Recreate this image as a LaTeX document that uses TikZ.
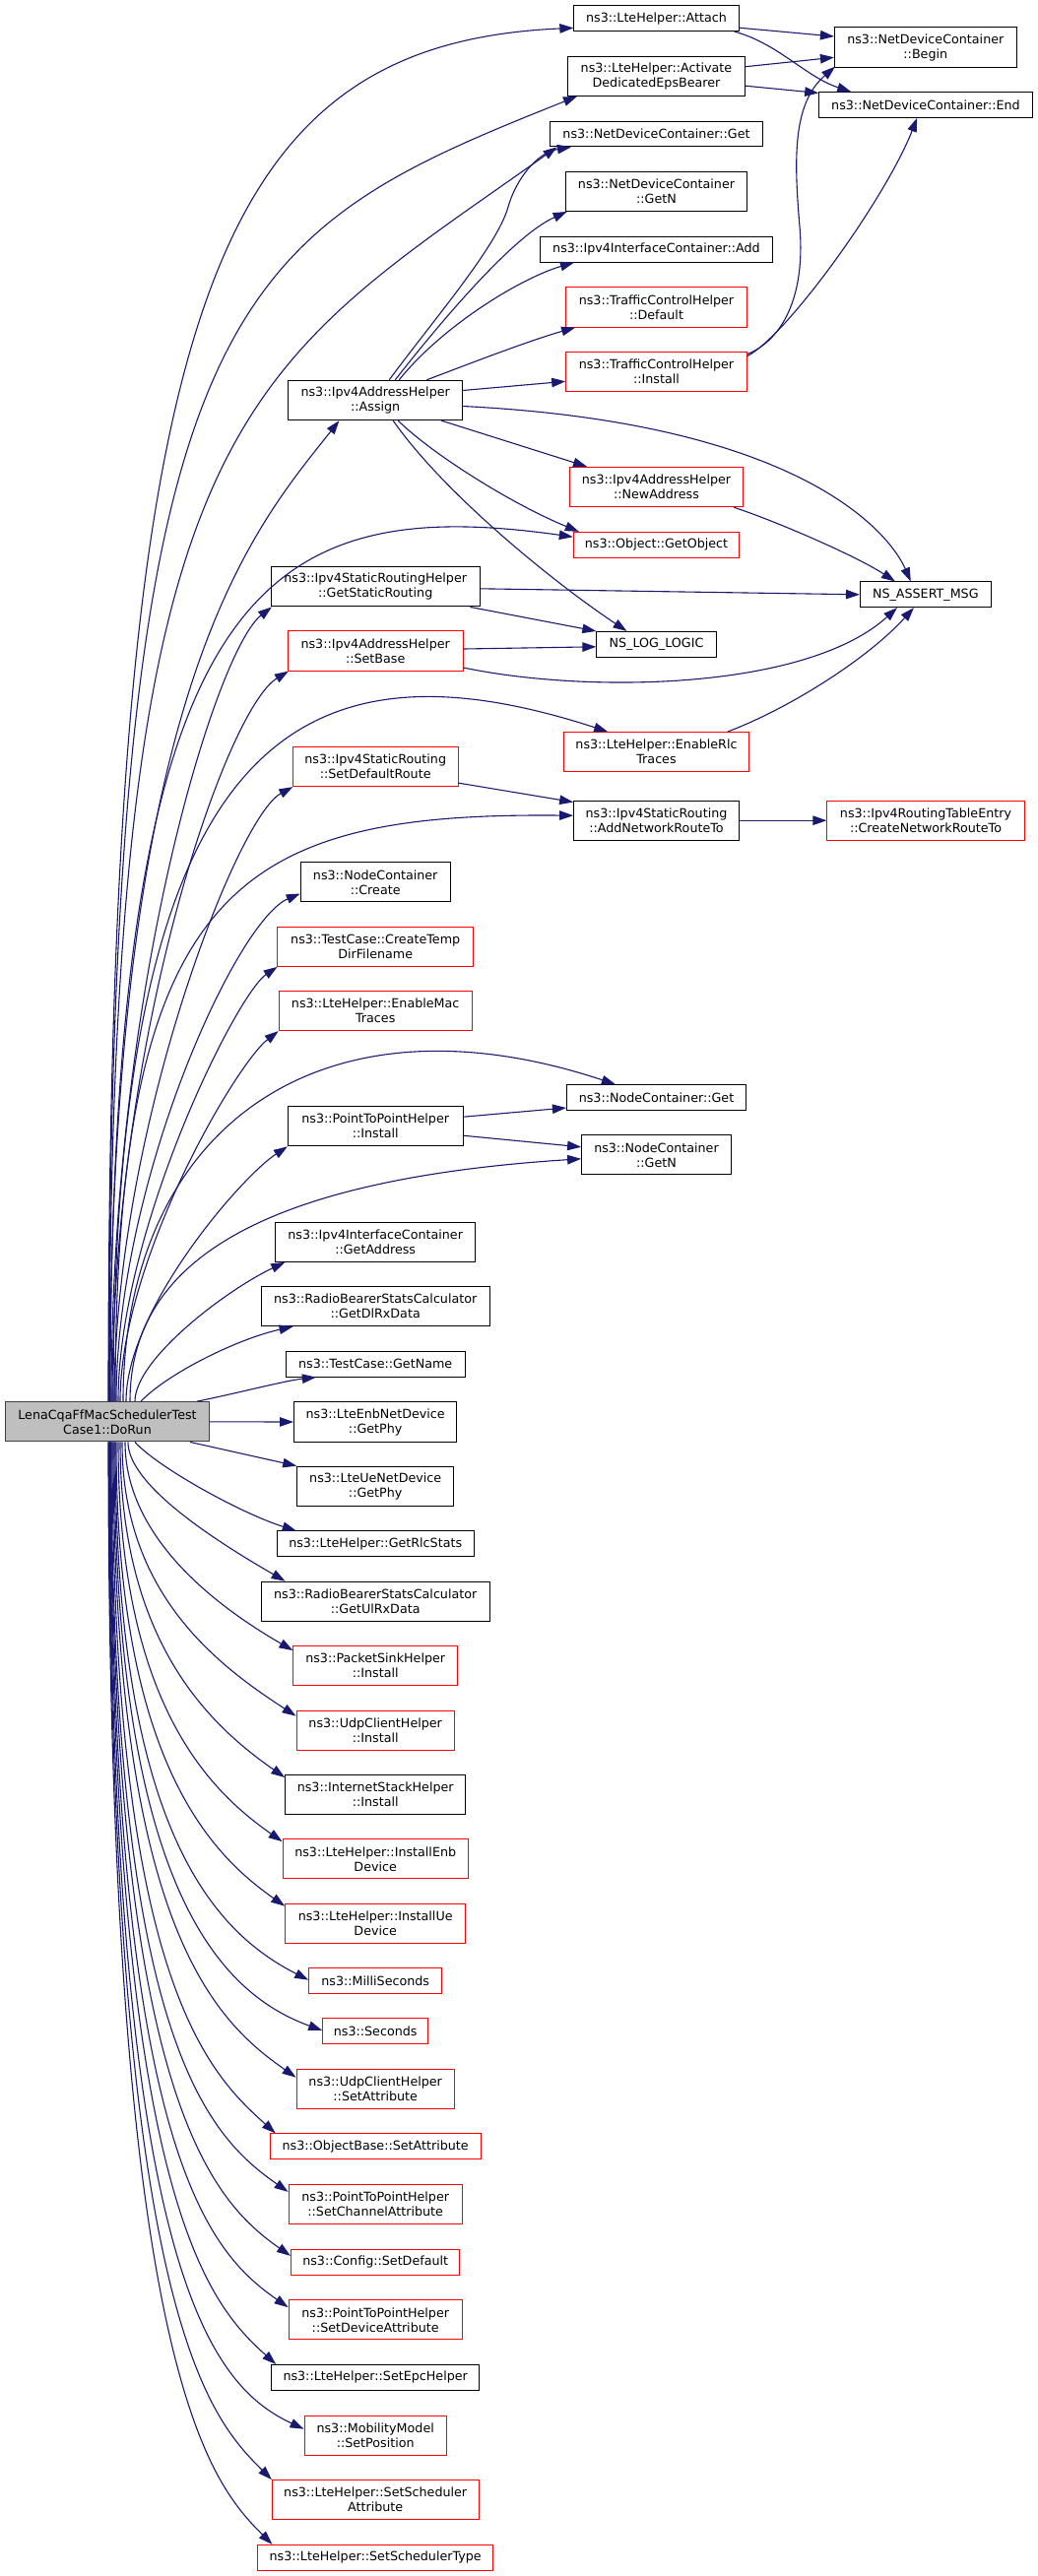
\documentclass[tikz,border=0pt]{standalone}
\usepackage{fontspec}
\setmainfont{DejaVu Sans}
\usetikzlibrary{arrows.meta,calc}
\definecolor{navy}{HTML}{191970}
\definecolor{mfill}{HTML}{BFBFBF}
\definecolor{mdraw}{HTML}{404040}
\tikzset{
  box/.style={draw=black, line width=1pt, fill=white, align=center, inner xsep=2pt, inner ysep=1pt,
    font=\fontsize{12.7}{15}\selectfont, minimum height=25.7pt},
  two/.style={minimum height=40.3pt},
  rb/.style={draw=red},
  edge/.style={navy, line width=1.1pt, -{Triangle[length=14pt,width=9.5pt]}},
}
\newcommand\upedge[4]{\draw[edge] ($(m.north)+(#1,0)$) .. controls #2 and #3 .. #4;}
\newcommand\dnedge[4]{\draw[edge] let \p1=($(m.south)+(#1,0)$), \p2=#4, \n1={0.55*(\x2-\x1)} in
  (\p1) .. controls (\x1,{\y1+#3*(\y2-\y1)}) and ({\x2-\n1*cos(#2)},{\y2+\n1*sin(#2)}) .. (\p2);}
\begin{document}
\begin{tikzpicture}[x=1pt,y=-1pt]
\fill[white] (0,0) rectangle (1053,2616);
\useasboundingbox (0,0) rectangle (1053,2616);

% main node
\node[box, two, fill=mfill, draw=mdraw, minimum width=206.6pt] (m) at (109,1443.8) {LenaCqaFfMacSchedulerTest\\Case1::DoRun};

% left column
\node[box, two, minimum width=176.5pt] (assign) at (381.2,406.5) {ns3::Ipv4AddressHelper\\::Assign};
\node[box, two, minimum width=211.6pt] (gsr) at (381.2,595.8) {ns3::Ipv4StaticRoutingHelper\\::GetStaticRouting};
\node[box, two, rb, minimum width=177.6pt] (setbase) at (381.2,661) {ns3::Ipv4AddressHelper\\::SetBase};
\node[box, two, rb, minimum width=167.7pt] (sdr) at (381.2,778.5) {ns3::Ipv4StaticRouting\\::SetDefaultRoute};
\node[box, two, minimum width=151.8pt] (create) at (381.2,895.8) {ns3::NodeContainer\\::Create};
\node[box, two, rb, minimum width=199.2pt] (ctdf) at (381.2,961.2) {ns3::TestCase::CreateTemp\\DirFilename};
\node[box, two, rb, minimum width=196pt] (emac) at (381.2,1026.5) {ns3::LteHelper::EnableMac\\Traces};
\node[box, two, minimum width=177.6pt] (p2pi) at (381.2,1143.7) {ns3::PointToPointHelper\\::Install};
\node[box, two, minimum width=203pt] (gaddr) at (381.2,1261.2) {ns3::Ipv4InterfaceContainer\\::GetAddress};
\node[box, two, minimum width=232.3pt] (dlrx) at (381.2,1326.5) {ns3::RadioBearerStatsCalculator\\::GetDlRxData};
\node[box, minimum width=181.7pt] (gname) at (381.2,1385.3) {ns3::TestCase::GetName};
\node[box, two, minimum width=165.3pt] (enbphy) at (381.2,1444) {ns3::LteEnbNetDevice\\::GetPhy};
\node[box, two, minimum width=159pt] (uephy) at (381.2,1509.3) {ns3::LteUeNetDevice\\::GetPhy};
\node[box, minimum width=200pt] (rlcstats) at (381.2,1567.8) {ns3::LteHelper::GetRlcStats};
\node[box, two, minimum width=232.3pt] (ulrx) at (381.2,1626.3) {ns3::RadioBearerStatsCalculator\\::GetUlRxData};
\node[box, two, rb, minimum width=166.6pt] (psink) at (381.2,1691.7) {ns3::PacketSinkHelper\\::Install};
\node[box, two, rb, minimum width=160.3pt] (udpi) at (381.2,1757.3) {ns3::UdpClientHelper\\::Install};
\node[box, two, minimum width=183pt] (ish) at (381.2,1822.7) {ns3::InternetStackHelper\\::Install};
\node[box, two, rb, minimum width=188.3pt] (ienb) at (381.2,1887.8) {ns3::LteHelper::InstallEnb\\Device};
\node[box, two, rb, minimum width=183pt] (iue) at (381.2,1953.3) {ns3::LteHelper::InstallUe\\Device};
\node[box, rb, minimum width=135pt] (milli) at (381.2,2011.7) {ns3::MilliSeconds};
\node[box, rb, minimum width=107pt] (secs) at (381.2,2062.5) {ns3::Seconds};
\node[box, two, rb, minimum width=160.3pt] (udpsa) at (381.2,2121.3) {ns3::UdpClientHelper\\::SetAttribute};
\node[box, rb, minimum width=214pt] (obsa) at (381.2,2179.7) {ns3::ObjectBase::SetAttribute};
\node[box, two, rb, minimum width=176.3pt] (p2pca) at (381.2,2238.5) {ns3::PointToPointHelper\\::SetChannelAttribute};
\node[box, rb, minimum width=171.4pt] (cfg) at (381.2,2297.2) {ns3::Config::SetDefault};
\node[box, two, rb, minimum width=176.3pt] (p2pda) at (381.2,2355.8) {ns3::PointToPointHelper\\::SetDeviceAttribute};
\node[box, minimum width=211pt] (epc) at (381.2,2414.3) {ns3::LteHelper::SetEpcHelper};
\node[box, two, rb, minimum width=144.3pt] (setpos) at (381.2,2473.2) {ns3::MobilityModel\\::SetPosition};
\node[box, two, rb, minimum width=209.7pt] (ssa) at (381.2,2538.7) {ns3::LteHelper::SetScheduler\\Attribute};
\node[box, rb, minimum width=238.6pt] (sst) at (381.2,2597.2) {ns3::LteHelper::SetSchedulerType};

% middle column
\node[box, minimum width=167.3pt] (attach) at (666.5,18.7) {ns3::LteHelper::Attach};
\node[box, two, minimum width=180pt] (activ) at (666.5,77.2) {ns3::LteHelper::Activate\\DedicatedEpsBearer};
\node[box, minimum width=216.2pt] (ndcget) at (666.5,136) {ns3::NetDeviceContainer::Get};
\node[box, two, minimum width=184.7pt] (ndcgetn) at (666.5,194.3) {ns3::NetDeviceContainer\\::GetN};
\node[box, minimum width=236.2pt] (iadd) at (666.5,253.2) {ns3::Ipv4InterfaceContainer::Add};
\node[box, two, rb, minimum width=183.7pt] (tcdef) at (666.5,312) {ns3::TrafficControlHelper\\::Default};
\node[box, two, rb, minimum width=183.7pt] (tcinst) at (666.5,377.3) {ns3::TrafficControlHelper\\::Install};
\node[box, two, rb, minimum width=176pt] (newaddr) at (666.5,494.5) {ns3::Ipv4AddressHelper\\::NewAddress};
\node[box, rb, minimum width=168.4pt] (getobj) at (666.5,553.2) {ns3::Object::GetObject};
\node[box, minimum width=121.3pt] (nslog) at (666.5,654.3) {NS\_LOG\_LOGIC};
\node[box, two, rb, minimum width=187.7pt] (rlc) at (666.5,763.7) {ns3::LteHelper::EnableRlc\\Traces};
\node[box, two, minimum width=167.8pt] (anrt) at (666.5,833.2) {ns3::Ipv4StaticRouting\\::AddNetworkRouteTo};
\node[box, minimum width=182.2pt] (ncget) at (666.5,1114.5) {ns3::NodeContainer::Get};
\node[box, two, minimum width=151.8pt] (ncgetn) at (666.5,1172.8) {ns3::NodeContainer\\::GetN};

% right column
\node[box, two, minimum width=184.7pt] (begin) at (939.8,48) {ns3::NetDeviceContainer\\::Begin};
\node[box, minimum width=216.6pt] (end) at (940,106.5) {ns3::NetDeviceContainer::End};
\node[box, minimum width=132.7pt] (assert) at (939.8,603.8) {NS\_ASSERT\_MSG};
\node[box, two, rb, minimum width=200.2pt] (cnrt) at (940,833.2) {ns3::Ipv4RoutingTableEntry\\::CreateNetworkRouteTo};

% ---- edges from main, upward
\upedge{1}{(110,320)}{(210,45)}{($(attach.south west)+(0,-3.7)$)}
\upedge{1.5}{(110.5,300)}{(230,240)}{($(activ.south west)+(10,0)$)}
\upedge{2}{(111,420)}{(240,380)}{($(ndcget.south west)+(7.6,0)$)}
\upedge{2.5}{(111.5,700)}{(255,540)}{($(assign.south west)+(52,0)$)}
\upedge{3}{(112,600)}{(260,500)}{($(getobj.west)+(0,-8)$)}
\upedge{4}{(113,1000)}{(220,660)}{($(gsr.south west)+(1,0)$)}
\upedge{5}{(114,1050)}{(230,720)}{($(setbase.south west)+(1,0)$)}
\upedge{6}{(115,750)}{(300,640)}{($(rlc.north west)+(45,0)$)}
\upedge{7}{(116,1150)}{(240,830)}{($(sdr.south west)+(0.5,0)$)}
\upedge{8}{(117,900)}{(240,825)}{($(anrt.west)+(0,-5)$)}
\upedge{9}{(118,1200)}{(240,935)}{($(create.south west)+(0,-9)$)}
\upedge{11}{(120,1250)}{(240,1010)}{($(ctdf.south west)+(0.5,0)$)}
\upedge{13}{(122,1280)}{(240,1080)}{(emac.south west)}
\upedge{16}{(125,1150)}{(320,1000)}{($(ncget.north west)+(50,0)$)}
\upedge{19}{(128,1330)}{(245,1195)}{(p2pi.south west)}
\upedge{23}{(132,1300)}{(230,1200)}{($(ncgetn.west)+(0,4)$)}
\upedge{28}{(137,1380)}{(230,1310)}{($(gaddr.south west)+(10,0)$)}
\upedge{34}{(170,1395)}{(240,1360)}{($(dlrx.south west)+(33,0)$)}
\upedge{91}{(240,1415)}{(290,1402)}{($(gname.south west)+(31,0)$)}
\draw[edge] (m.east) -- (enbphy.west);
% ---- edges from main, downward
\draw[edge] ($(m.south)+(84,0)$) -- (uephy.north west);
\draw[edge] ($(m.south)+(28,0)$) .. controls (160,1490) and (245,1537) .. ($(rlcstats.north west)+(20,0)$);
\dnedge{21}{30}{0.3}{($(ulrx.north west)+(25,0)$)}
\dnedge{18}{30}{0.45}{($(psink.north west)+(0,5)$)}
\dnedge{15}{33}{0.55}{($(udpi.north west)+(0,6)$)}
\dnedge{13}{35}{0.6}{($(ish.north west)+(0,3)$)}
\dnedge{11}{35}{0.65}{($(ienb.north west)+(0,3)$)}
\dnedge{9}{35}{0.68}{($(iue.north west)+(0,3)$)}
\dnedge{8}{27}{0.72}{($(milli.west)+(0,-1)$)}
\dnedge{7}{20}{0.74}{($(secs.west)+(0,-0.5)$)}
\dnedge{6}{35}{0.76}{($(udpsa.north west)+(0,9)$)}
\dnedge{5}{42}{0.78}{($(obsa.north west)+(6,0)$)}
\dnedge{4}{35}{0.8}{($(p2pca.north west)+(0,8)$)}
\dnedge{3.5}{35}{0.8}{($(cfg.north west)+(0,7)$)}
\dnedge{3}{35}{0.82}{($(p2pda.north west)+(0,8)$)}
\dnedge{2.5}{42}{0.82}{($(epc.north west)+(5,0)$)}
\dnedge{2}{25}{0.83}{($(setpos.west)+(0,-6.5)$)}
\dnedge{1.5}{45}{0.84}{(ssa.north west)}
\dnedge{1}{45}{0.84}{($(sst.north west)+(15,0)$)}

% ---- other edges
\draw[edge] ($(assign.north)+(14,0)$) .. controls (440,325) and (505,250) .. (516,210)
   .. controls (524,182) and (545,155) .. ($(ndcget.south west)+(22,0)$);
\draw[edge] ($(assign.north)+(20,0)$) .. controls (445,330) and (520,240) .. ($(ndcgetn.south west)+(2,0)$);
\draw[edge] ($(assign.north)+(24,0)$) .. controls (450,330) and (530,282) .. ($(iadd.south west)+(35,0)$);
\draw[edge] ($(assign.north)+(52,0)$) .. controls (480,368) and (540,345) .. ($(tcdef.south west)+(10,0)$);
\draw[edge] ($(assign.east)+(0,-10)$) -- ($(tcinst.west)+(0,10)$);
\draw[edge] ($(assign.south)+(67,0)$) -- ($(newaddr.north west)+(18,0)$);
\draw[edge] ($(assign.south)+(23,0)$) .. controls (440,462) and (520,512) .. ($(getobj.north west)+(6,0)$);
\draw[edge] ($(assign.south)+(18,0)$) .. controls (450,500) and (560,590) .. ($(nslog.north)+(-30,0)$);
\draw[edge] ($(assign.east)+(0,6)$) .. controls (820,430) and (905,545) .. ($(assert.north)+(-15,0)$);
\draw[edge] ($(newaddr.south east)+(-10,0)$) .. controls (790,530) and (870,565) .. ($(assert.north west)+(36,0)$);
\draw[edge] ($(gsr.east)+(0,2)$) -- (assert.west);
\draw[edge] ($(gsr.south east)+(-10,0)$) -- (nslog.north west);
\draw[edge] ($(setbase.east)+(0,-2)$) -- ($(nslog.west)+(0,2.5)$);
\draw[edge] ($(setbase.east)+(0,17)$) .. controls (600,705) and (820,700) .. ($(assert.south west)+(38,0)$);
\draw[edge] ($(rlc.north east)+(-22,0)$) .. controls (800,720) and (880,670) .. ($(assert.south west)+(55,0)$);
\draw[edge] ($(sdr.south east)+(0,-4)$) -- ($(anrt.north west)+(0,2)$);
\draw[edge] (anrt.east) -- (cnrt.west);
\draw[edge] ($(p2pi.east)+(0,-9.5)$) -- ($(ncget.west)+(0,10.5)$);
\draw[edge] ($(p2pi.east)+(0,9.5)$) -- ($(ncgetn.west)+(0,-8)$);
\draw[edge] ($(attach.east)+(0,9.5)$) -- ($(begin.west)+(0,-11)$);
\draw[edge] ($(attach.south east)+(-5,0)$) .. controls (790,44) and (818,78) .. ($(end.north west)+(33,0)$);
\draw[edge] ($(activ.east)+(0,-9.5)$) -- ($(begin.west)+(0,10.3)$);
\draw[edge] ($(activ.east)+(0,10)$) -- ($(end.north west)+(0,1.3)$);
\draw[edge] ($(tcinst.north east)+(0,3)$) .. controls (795,345) and (818,300) .. (812,230)
   .. controls (806,160) and (805,105) .. ($(begin.south west)+(1,-1)$);
\draw[edge] ($(tcinst.north east)+(0,5)$) .. controls (800,340) and (900,200) .. ($(end.south west)+(100,0)$);
\end{tikzpicture}
\end{document}
